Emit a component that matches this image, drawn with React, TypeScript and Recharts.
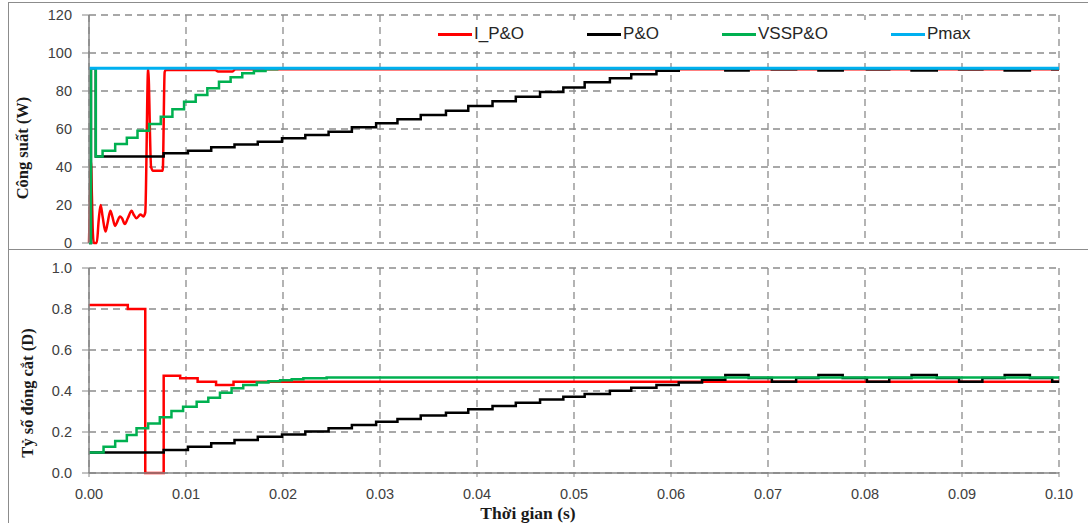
import React from 'react';
import { LineChart, Line, XAxis, YAxis, CartesianGrid } from 'recharts';

// axis ticks
const timeTicks = [0, 0.01, 0.02, 0.03, 0.04, 0.05, 0.06, 0.07, 0.08, 0.09, 0.1];
const powerTicks = [0, 20, 40, 60, 80, 100, 120];
const dutyTicks = [0, 0.2, 0.4, 0.6, 0.8, 1.0];

// Pmax
const pmaxTime = [0, 0.1];
const pmaxPower = [92, 92];

// I_P&O - power (W)
const ipoPowerTime = [0, 0.0001, 0.0002, 0.0003, 0.0004, 0.0005, 0.0008, 0.001, 0.0012, 0.0014, 0.0017, 0.0019,
  0.0022, 0.0024, 0.0027, 0.0029, 0.0032, 0.0034, 0.0037, 0.004, 0.0044, 0.0046, 0.0049, 0.0053,
  0.0056, 0.0058, 0.0061, 0.0064, 0.0066, 0.0076, 0.0078, 0.0079, 0.013, 0.0133, 0.0148, 0.0151, 0.1];
const ipoPower = [0, 25, 43, 25, 5, 0, 0, 12, 20, 14, 6, 10,
  17, 14, 9, 11, 14, 13, 10, 13, 17, 15, 13, 15,
  14, 16, 92, 40, 38, 38, 90, 91, 91, 90.3, 90.3, 91.5, 91.5];

// P&O - power (W), step values
const poPowerTime = [0, 0.0002, 0.0007, 0.0077, 0.0102, 0.0126, 0.015, 0.0174, 0.0199,
  0.0223, 0.0247, 0.0271, 0.0296, 0.0318, 0.0342, 0.0368, 0.0391, 0.0416, 0.044,
  0.0465, 0.0489, 0.0511, 0.0537, 0.0559, 0.0585, 0.0608,
  0.0656, 0.068, 0.0704, 0.0729, 0.0752, 0.0777, 0.0802, 0.0825, 0.0848, 0.0874, 0.0897, 0.0921, 0.0944, 0.097, 0.0993, 0.1];
const poPower = [0, 92, 45.5, 47.2, 48.6, 50.4, 51.9, 53.3, 55.1,
  56.8, 58.6, 60.9, 63, 65.1, 67.4, 69.6, 72.1, 74.6, 77,
  79.5, 81.9, 84.6, 86.7, 88.8, 90.7, 91.8,
  90.8, 92, 91.4, 92, 90.8, 92, 91.4, 92, 90.8, 92, 91.4, 92, 90.8, 92, 91.4, 91.4];

// VSSP&O - power (W), step values
const vsPowerTime = [0, 0.0002, 0.0007, 0.0014, 0.0027, 0.0039, 0.005, 0.0062, 0.0074, 0.0086,
  0.0098, 0.011, 0.0122, 0.0134, 0.0146, 0.0158, 0.017, 0.0182, 0.0194, 0.1];
const vsPower = [0, 92, 45.5, 48.6, 52.1, 55.4, 59.1, 62.6, 66.5, 70.4,
  74.4, 77.9, 81.4, 84.9, 87.2, 89.3, 90.5, 91.4, 92, 92];

// I_P&O - duty ratio
const ipoDutyTime = [0, 0.004, 0.0058, 0.0077, 0.0094, 0.0112, 0.0131, 0.0149, 0.1];
const ipoDuty = [0.82, 0.8, 0, 0.475, 0.462, 0.445, 0.429, 0.445, 0.445];

// P&O - duty ratio
const poDutyTime = [0, 0.0077, 0.0102, 0.0126, 0.015, 0.0174, 0.0199,
  0.0223, 0.0247, 0.0271, 0.0296, 0.0318, 0.0342, 0.0368, 0.0391, 0.0416, 0.044,
  0.0465, 0.0489, 0.0511, 0.0537, 0.0559, 0.0585, 0.0608, 0.0632,
  0.0656, 0.068, 0.0704, 0.0729, 0.0752, 0.0777, 0.0802, 0.0825, 0.0848, 0.0874, 0.0897, 0.0921, 0.0944, 0.097, 0.0993, 0.1];
const poDuty = [0.1, 0.112, 0.128, 0.145, 0.161, 0.177, 0.188,
  0.202, 0.218, 0.234, 0.25, 0.264, 0.28, 0.294, 0.311, 0.327, 0.343,
  0.359, 0.372, 0.385, 0.401, 0.416, 0.429, 0.442, 0.455,
  0.478, 0.464, 0.445, 0.464, 0.478, 0.464, 0.445, 0.464, 0.478, 0.464, 0.445, 0.464, 0.478, 0.464, 0.445, 0.445];

// VSSP&O - duty ratio
const vsDutyTime = [0, 0.0015, 0.0027, 0.0039, 0.0049, 0.0061, 0.0073, 0.0085, 0.0097, 0.0111, 0.0123,
  0.0135, 0.0147, 0.0159, 0.0173, 0.0185, 0.0197, 0.0209, 0.0221, 0.0245, 0.1];
const vsDuty = [0.1, 0.128, 0.156, 0.185, 0.218, 0.242, 0.272, 0.302, 0.323, 0.348, 0.367,
  0.392, 0.413, 0.429, 0.442, 0.447, 0.452, 0.457, 0.462, 0.466, 0.466];

const legendItems = [
  { name: 'I_P&O', color: '#FF0000' },
  { name: 'P&O', color: '#000000' },
  { name: 'VSSP&O', color: '#00B050' },
  { name: 'Pmax', color: '#00B0F0' },
];

const toPoints = (t: number[], v: number[]) => t.map((x, i) => ({ t: x, v: v[i] }));

const gridColor = '#8c8c8c';
const axisColor = '#868686';
const tickStyle = { fontFamily: 'Liberation Sans', fontSize: 14.5, fill: '#404040' };
const titleStyle: React.CSSProperties = { fontFamily: 'Liberation Serif', fontSize: 16.5, fontWeight: 'bold', fill: '#1a1a1a' };

const App = () => {
  return (
    <div style={{ position: 'absolute', left: 0, top: 0, width: 1088, height: 523, background: '#fff', overflow: 'hidden' }}>
      {/* outer frame and separator */}
      <div style={{ position: 'absolute', left: 8, top: 2, width: 1100, height: 540, borderLeft: `1.5px solid ${gridColor}`, borderTop: `1.5px solid ${gridColor}` }} />
      <div style={{ position: 'absolute', left: 8, top: 249, width: 1100, borderTop: `1.5px solid ${gridColor}` }} />

      <div style={{ position: 'absolute', left: 0, top: 0 }}>
        <LineChart width={1088} height={250} margin={{ top: 15, right: 29, left: 0, bottom: 7 }}>
          <CartesianGrid stroke={gridColor} strokeWidth={1.3} strokeDasharray="7 5" />
          <XAxis
            type="number"
            dataKey="t"
            domain={[0, 0.1]}
            ticks={timeTicks}
            interval={0}
            height={0}
            tick={() => <g />}
            tickLine={false}
            axisLine={{ stroke: axisColor, strokeWidth: 1.5 }}
          />
          <YAxis
            type="number"
            domain={[0, 120]}
            ticks={powerTicks}
            interval={0}
            width={89}
            tick={tickStyle}
            tickSize={7}
            tickMargin={10}
            tickLine={{ stroke: axisColor }}
            axisLine={{ stroke: axisColor, strokeWidth: 1.5 }}
            label={() => (
              <text x={22} y={148} transform="rotate(-90 22 148)" textAnchor="middle" dominantBaseline="central" style={titleStyle}>
                Công suất (W)
              </text>
            )}
          />
          <Line data={toPoints(ipoPowerTime, ipoPower)} dataKey="v" type="monotone" stroke="#FF0000" strokeWidth={2.5} dot={false} isAnimationActive={false} />
          <Line data={toPoints(poPowerTime, poPower)} dataKey="v" type="stepAfter" stroke="#000000" strokeWidth={2.5} dot={false} isAnimationActive={false} />
          <Line data={toPoints(vsPowerTime, vsPower)} dataKey="v" type="stepAfter" stroke="#00B050" strokeWidth={2.5} dot={false} isAnimationActive={false} />
          <Line data={toPoints(pmaxTime, pmaxPower)} dataKey="v" type="linear" stroke="#00B0F0" strokeWidth={3} dot={false} isAnimationActive={false} />
        </LineChart>
      </div>

      <div style={{ position: 'absolute', left: 0, top: 250 }}>
        <LineChart width={1088} height={273} margin={{ top: 18, right: 29, left: 0, bottom: 0 }}>
          <CartesianGrid stroke={gridColor} strokeWidth={1.3} strokeDasharray="7 5" />
          <XAxis
            type="number"
            dataKey="t"
            domain={[0, 0.1]}
            ticks={timeTicks}
            interval={0}
            height={50}
            tick={tickStyle}
            tickSize={4}
            tickMargin={12}
            tickLine={{ stroke: axisColor }}
            tickFormatter={(v: number) => v.toFixed(2)}
            axisLine={{ stroke: axisColor, strokeWidth: 1.5 }}
            label={() => (
              <text x={528} y={263} textAnchor="middle" dominantBaseline="central" style={{ ...titleStyle, fontSize: 17.5 }}>
                Thời gian (s)
              </text>
            )}
          />
          <YAxis
            type="number"
            domain={[0, 1]}
            ticks={dutyTicks}
            interval={0}
            width={89}
            tick={tickStyle}
            tickSize={7}
            tickMargin={10}
            tickLine={{ stroke: axisColor }}
            tickFormatter={(v: number) => v.toFixed(1)}
            axisLine={{ stroke: axisColor, strokeWidth: 1.5 }}
            label={() => (
              <text x={27} y={143} transform="rotate(-90 27 143)" textAnchor="middle" dominantBaseline="central" style={titleStyle}>
                Tỷ số đóng cắt (D)
              </text>
            )}
          />
          <Line data={toPoints(ipoDutyTime, ipoDuty)} dataKey="v" type="stepAfter" stroke="#FF0000" strokeWidth={2.5} dot={false} isAnimationActive={false} />
          <Line data={toPoints(poDutyTime, poDuty)} dataKey="v" type="stepAfter" stroke="#000000" strokeWidth={2.5} dot={false} isAnimationActive={false} />
          <Line data={toPoints(vsDutyTime, vsDuty)} dataKey="v" type="stepAfter" stroke="#00B050" strokeWidth={2.5} dot={false} isAnimationActive={false} />
        </LineChart>
      </div>

      {/* legend */}
      <div
        style={{
          position: 'absolute', left: 420, top: 20, width: 580, height: 28, background: '#fff',
          display: 'flex', alignItems: 'center', gap: 63, paddingLeft: 18, boxSizing: 'border-box',
          fontFamily: 'Liberation Sans', fontSize: 17, color: '#262626',
        }}
      >
        {legendItems.map((item) => (
          <div key={item.name} style={{ display: 'flex', alignItems: 'center' }}>
            <span style={{ display: 'inline-block', width: 34, height: 3, background: item.color, marginRight: 2 }} />
            <span>{item.name}</span>
          </div>
        ))}
      </div>
    </div>
  );
};

export default App;
